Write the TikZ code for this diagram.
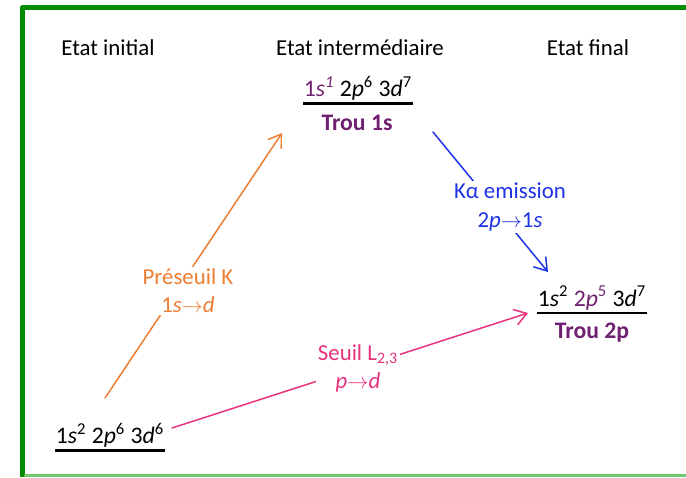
\documentclass[tikz,border=0pt]{standalone}
\usepackage{fontspec}
\setmainfont{Carlito}
\usetikzlibrary{arrows.meta}
\definecolor{vert}{RGB}{0,140,0}
\definecolor{vertclair}{RGB}{110,200,110}
\definecolor{orangeK}{RGB}{237,125,49}
\definecolor{roseL}{RGB}{232,50,125}
\definecolor{bleuKa}{RGB}{30,50,230}
\definecolor{violet}{RGB}{112,32,112}
\newcommand\orb[3]{#1\textit{#2}\textsuperscript{#3}}
\newcommand\fl{$\rightarrow$}
\begin{document}
\begin{tikzpicture}[x=0.02cm,y=-0.02cm,font=\fontsize{13}{16}\selectfont,line join=round,line cap=round,
		>={Straight Barb[length=2.4mm,width=3.2mm]},
		config/.style={font=\fontsize{13.5}{16}\selectfont,inner xsep=0.5pt,inner ysep=1.7pt},
		trou/.style={font=\fontsize{13.5}{16}\selectfont\bfseries,text=violet},
		souligne/.style={line width=1.4pt,line cap=butt},
		trans/.style={->,line width=0.85pt},
		etiq/.style={fill=white,align=center,inner sep=1pt}]
	\useasboundingbox (0,0) rectangle (686,477);
	\draw[vert,line width=2.8pt,line cap=butt] (22.5,477) -- (22.5,7.5) -- (686,7.5);
	\draw[vertclair,line width=1.2pt] (25,475.5) -- (686,475.5);
	\node (tini) at (108,48) {Etat initial};
	\node (tmid) at (360,48) {Etat intermédiaire};
	\node (tfin) at (588,48) {Etat final};
	\node[config] (ini) at (110,435) {\orb{1}{s}{2} \orb{2}{p}{6} \orb{3}{d}{6}};
	\node[config] (mid) at (358,88) {\textcolor{violet}{1\textit{s}\textsuperscript{\textit{1}}} \orb{2}{p}{6} \orb{3}{d}{7}};
	\node[config] (fin) at (592,298) {\orb{1}{s}{2} \textcolor{violet}{\orb{2}{p}{5}} \orb{3}{d}{7}};
	\node[trou] (trmid) at (357,123) {Trou 1s};
	\node[trou] (trfin) at (592,333) {Trou 2p};
	\draw[souligne] (ini.south west) -- (ini.south east);
	\draw[souligne] (mid.south west) -- (mid.south east);
	\draw[souligne] (fin.south west) -- (fin.south east);
	\draw[trans,orangeK] ([shift={(-5,-37)}]ini.center) -- ([shift={(-75,10)}]trmid.center);
	\draw[trans,roseL] ([shift={(62,-7)}]ini.center) -- ([shift={(-64,15)}]fin.center);
	\draw[trans,bleuKa] ([shift={(76,9)}]trmid.center) -- ([shift={(-44,-26)}]fin.center);
	\node[etiq,text=orangeK] (lk) at (188,291) {Préseuil K\\1\textit{s}\fl\textit{d}};
	\node[etiq,text=roseL] (ll) at (358,368) {Seuil L\textsubscript{2,3}\\\textit{p}\fl\textit{d}};
	\node[etiq,text=bleuKa] (lka) at (510,207) {Kα emission\\2\textit{p}\fl1\textit{s}};
\end{tikzpicture}
\end{document}
